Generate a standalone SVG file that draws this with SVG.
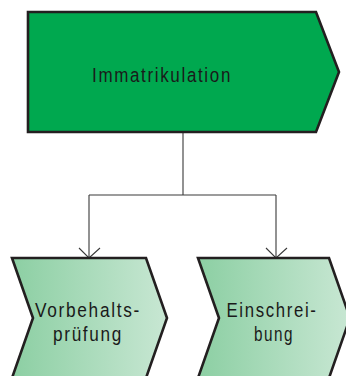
<svg xmlns="http://www.w3.org/2000/svg" width="346" height="376" viewBox="0 0 346 376">
<defs>
<linearGradient id="g" x1="0" y1="0" x2="1" y2="0">
<stop offset="0" stop-color="#8ccfa3"/>
<stop offset="1" stop-color="#c8e7d3"/>
</linearGradient>
<style>
.node{stroke:#231f20;stroke-width:2.6;stroke-linejoin:miter}
.conn{fill:none;stroke:#3a3a3a;stroke-width:1.1}
.t{font-family:"Liberation Sans",Arial,sans-serif;font-size:20.5px;letter-spacing:2px;fill:#1a1a1a;text-anchor:middle}
</style>
</defs>
<rect width="346" height="376" fill="#ffffff"/>
<g id="connectors">
<path class="conn" d="M183,132 V195 M89,195 H276 M89,195 V258 M276,195 V258"/>
<path class="conn" d="M79,248 L89,258 L100,248 M266,248 L276,258 L287,248"/>
</g>
<g id="immatrikulation">
<path class="node" fill="#00a84f" d="M28,12 H316 L339,72 L316,132 H28 Z"/>
<text class="t" x="162" y="82" textLength="140" lengthAdjust="spacingAndGlyphs">Immatrikulation</text>
</g>
<g id="vorbehaltspruefung">
<path class="node" fill="url(#g)" d="M12,258 H146 L167,318 L146,378 H12 L33,318 Z"/>
<text class="t" x="88" y="317" textLength="106" lengthAdjust="spacingAndGlyphs">Vorbehalts-</text>
<text class="t" x="88" y="341" textLength="70" lengthAdjust="spacingAndGlyphs">prüfung</text>
</g>
<g id="einschreibung">
<path class="node" fill="url(#g)" d="M198,258 H329 L350,318 L329,378 H198 L219,318 Z"/>
<text class="t" x="272" y="317" textLength="91" lengthAdjust="spacingAndGlyphs">Einschrei-</text>
<text class="t" x="274" y="341" textLength="40" lengthAdjust="spacingAndGlyphs">bung</text>
</g>
</svg>
